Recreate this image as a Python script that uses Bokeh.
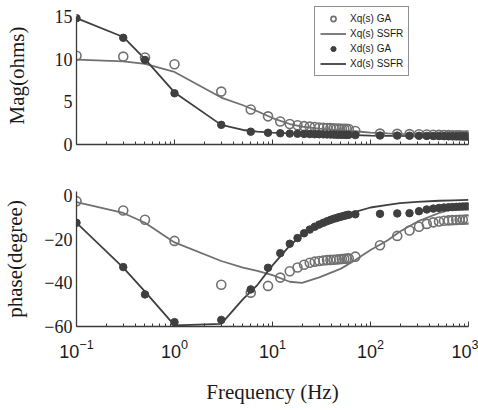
from bokeh.plotting import figure
from bokeh.layouts import column
from bokeh.models import Range1d, FixedTicker, LogTickFormatter, CustomJSTickFormatter, Legend, LegendItem
from bokeh.embed import file_html
from bokeh.resources import INLINE

# GA sample frequencies (Hz)
freq_ga = [0.1, 0.3, 0.5, 1, 3, 6, 9, 12, 15, 18, 21, 24, 27, 30, 33, 36, 39, 42, 45, 48,
           51, 54, 57, 60, 70, 125, 187.5, 250, 312.5, 375, 437.5, 500, 562.5, 625, 687.5,
           750, 812.5, 875, 937.5, 1000]
# SSFR curve frequencies (Hz)
freq_ssfr = [0.1, 0.3, 0.5, 1, 3, 5, 7, 10, 15, 20, 30, 50, 70, 100, 150, 200, 300, 500, 700, 1000]

# Magnitude (ohms)
mag_xq_ga = [10.4, 10.3, 10.2, 9.4, 6.2, 4.1, 3.3, 2.7, 2.4, 2.25, 2.15, 2.1, 2.05, 2.0, 1.97, 1.94,
             1.92, 1.9, 1.88, 1.86, 1.85, 1.84, 1.83, 1.82, 1.58, 1.28, 1.25, 1.22, 1.2, 1.17, 1.15,
             1.13, 1.12, 1.1, 1.09, 1.08, 1.07, 1.06, 1.05, 1.05]
mag_xd_ga = [14.8, 12.5, 9.9, 6.0, 2.3, 1.5, 1.38, 1.32, 1.28, 1.26, 1.24, 1.22, 1.21, 1.2, 1.19, 1.18,
             1.17, 1.16, 1.15, 1.15, 1.14, 1.14, 1.13, 1.13, 1.1, 1.05, 1.04, 1.03, 1.02, 1.01, 1.0,
             1.0, 0.99, 0.98, 0.98, 0.97, 0.97, 0.96, 0.96, 0.95]
mag_xq_ssfr = [9.95, 9.75, 9.45, 8.5, 5.5, 4.6, 3.9, 3.1, 2.4, 2.1, 1.85, 1.65, 1.55, 1.4, 1.3, 1.25,
               1.2, 1.1, 1.05, 1.0]
mag_xd_ssfr = [14.8, 12.6, 10.0, 6.1, 2.3, 1.7, 1.5, 1.4, 1.3, 1.25, 1.2, 1.15, 1.1, 1.05, 1.0, 1.0,
               0.95, 0.95, 0.9, 0.9]

# Phase (degree)
ph_xq_ga = [-2.6, -6.9, -11.1, -20.8, -40.9, -44.5, -41.4, -37.6, -34.7, -33.0, -31.7, -30.8, -30.3,
            -30.0, -29.8, -29.6, -29.5, -29.4, -29.3, -29.2, -29.1, -29.0, -28.9, -28.8, -28.0,
            -22.8, -18.5, -16.0, -14.3, -13.0, -12.3, -11.9, -11.6, -11.4, -11.3, -11.2, -11.1,
            -11.1, -11.0, -11.0]
ph_xd_ga = [-12.5, -32.8, -45.3, -58.0, -57.0, -43.0, -33.1, -26.4, -22.1, -19.5, -17.3, -15.6, -14.3,
            -13.3, -12.5, -11.8, -11.2, -10.7, -10.3, -9.9, -9.6, -9.3, -9.0, -8.8, -8.6, -8.4,
            -8.2, -8.1, -7.2, -6.4, -6.0, -5.7, -5.5, -5.4, -5.3, -5.2, -5.1, -5.05, -5.0, -5.0]
ph_xq_ssfr = [-3.0, -8.0, -12.5, -21.5, -30.0, -33.0, -34.5, -36.5, -39.5, -40.0, -37.5, -33.5, -29.5,
              -25.0, -20.5, -16.5, -12.0, -8.0, -6.3, -5.0]
ph_xd_ssfr = [-12.5, -33.0, -44.0, -59.5, -58.8, -47.5, -41.0, -32.0, -23.0, -18.0, -13.5, -9.5, -7.5,
              -5.5, -4.3, -3.5, -2.9, -2.4, -2.2, -2.0]

mag_ticks = [0, 5, 10, 15]
phase_ticks = [-60, -40, -20, 0]
decade_ticks = [0.1, 1, 10, 100, 1000]
minor_x = [m * d for d in [0.1, 1, 10, 100] for m in range(2, 10)]

C_Q = "#707070"
C_D = "#3f3f3f"
AX = "#3a3a3a"
SERIF = "Liberation Serif"
SANS = "Liberation Sans"

x_range = Range1d(0.1, 1000)


def style(p, yticks):
    p.outline_line_color = None
    p.xgrid.grid_line_color = None
    p.ygrid.grid_line_color = None
    p.background_fill_color = "white"
    p.border_fill_color = "white"
    for ax in (p.xaxis[0], p.yaxis[0]):
        ax.axis_line_color = AX
        ax.axis_line_width = 1.3
        ax.major_tick_line_color = AX
        ax.minor_tick_line_color = AX
        ax.axis_label_text_font = SERIF
        ax.axis_label_text_font_style = "normal"
        ax.axis_label_text_font_size = "21px"
        ax.axis_label_text_color = "#1a1a1a"
    xa = p.xaxis[0]
    xa.ticker = FixedTicker(ticks=decade_ticks, minor_ticks=minor_x)
    xa.major_tick_in = 5
    xa.major_tick_out = 0
    xa.minor_tick_in = 3
    xa.minor_tick_out = 0
    ya = p.yaxis[0]
    ya.ticker = FixedTicker(ticks=yticks)
    ya.major_tick_in = 0
    ya.major_tick_out = 0
    ya.minor_tick_in = 0
    ya.minor_tick_out = 0
    ya.major_label_text_font = SERIF
    ya.major_label_text_font_size = "18px"
    ya.major_label_text_color = "#1a1a1a"
    ya.major_label_standoff = 4


# frame 6..144 px; 15 ohms sits at y=16 px
p1 = figure(width=478, height=164, x_axis_type="log", x_range=x_range, y_range=Range1d(0, 16.17),
            output_backend="svg", toolbar_location=None,
            min_border_left=70, min_border_right=10, min_border_top=6, min_border_bottom=20)
style(p1, mag_ticks)
p1.yaxis[0].bounds = (0, 15)
p1.xaxis[0].formatter = CustomJSTickFormatter(code="return ''")
p1.yaxis[0].axis_label = "Mag(ohms)"
p1.yaxis[0].axis_label_standoff = 23

l_q1 = p1.line(freq_ssfr, mag_xq_ssfr, line_color=C_Q, line_width=1.8)
l_d1 = p1.line(freq_ssfr, mag_xd_ssfr, line_color=C_D, line_width=1.8)
s_q1 = p1.scatter(freq_ga, mag_xq_ga, marker="circle", size=9, fill_color=None,
                  line_color=C_Q, line_width=1.6)
s_d1 = p1.scatter(freq_ga, mag_xd_ga, marker="circle", size=7.5, fill_color=C_D,
                  line_color=C_D, line_width=1)

legend = Legend(items=[
    LegendItem(label="Xq(s) GA", renderers=[s_q1]),
    LegendItem(label="Xq(s) SSFR", renderers=[l_q1]),
    LegendItem(label="Xd(s) GA", renderers=[s_d1]),
    LegendItem(label="Xd(s) SSFR", renderers=[l_d1]),
], location=(238, 68))
legend.glyph_width = 26
legend.glyph_height = 13
legend.label_height = 13
legend.label_standoff = 4
legend.spacing = 2
legend.padding = 5
legend.margin = 0
legend.label_text_font = SANS
legend.label_text_font_size = "10px"
legend.label_text_color = "#1a1a1a"
legend.border_line_color = "#222222"
legend.border_line_width = 1.2
legend.background_fill_alpha = 1
p1.add_layout(legend, "center")

p2 = figure(width=478, height=242, x_axis_type="log", x_range=x_range, y_range=Range1d(-60, 1.83),
            output_backend="svg", toolbar_location=None,
            min_border_left=70, min_border_right=10, min_border_top=27, min_border_bottom=80)
style(p2, phase_ticks)
xa2 = p2.xaxis[0]
xa2.formatter = LogTickFormatter()
xa2.major_label_text_font = SANS
xa2.major_label_text_font_size = "18px"
xa2.major_label_text_color = "#1a1a1a"
xa2.major_label_standoff = 12
xa2.axis_label = "Frequency (Hz)"
xa2.axis_label_standoff = 19
p2.yaxis[0].axis_label = "phase(degree)"
p2.yaxis[0].axis_label_standoff = 14

p2.line(freq_ssfr, ph_xq_ssfr, line_color=C_Q, line_width=1.8)
p2.line(freq_ssfr, ph_xd_ssfr, line_color=C_D, line_width=1.8)
p2.scatter(freq_ga, ph_xq_ga, marker="circle", size=9, fill_color=None, line_color=C_Q, line_width=1.6)
p2.scatter(freq_ga, ph_xd_ga, marker="circle", size=7.5, fill_color=C_D, line_color=C_D, line_width=1)

layout = column(p1, p2, spacing=0)
open("out.html", "w").write(file_html(layout, INLINE))
